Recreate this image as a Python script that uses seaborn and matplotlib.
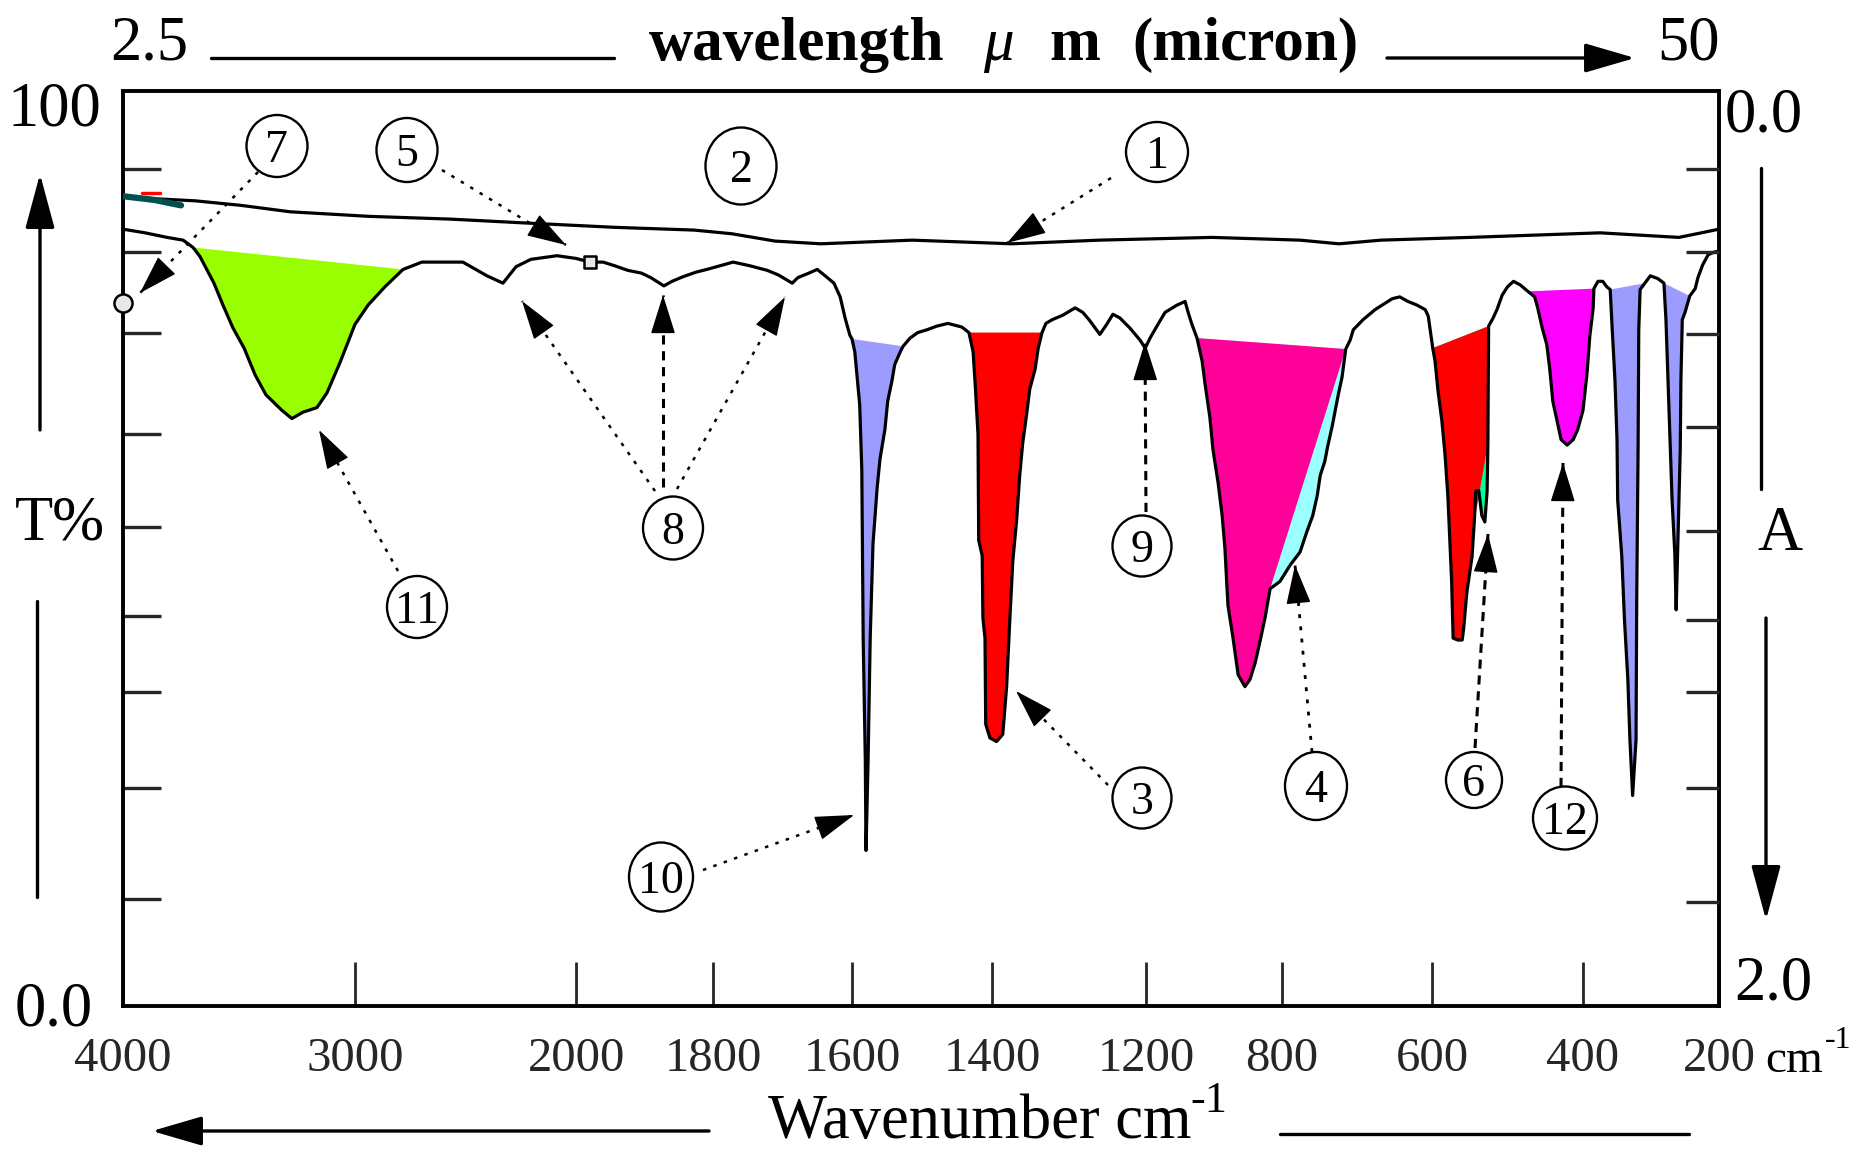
import numpy as np
import pandas as pd
import matplotlib
matplotlib.use("Agg")
import matplotlib.pyplot as plt
import seaborn as sns
from matplotlib.patches import Ellipse, FancyArrowPatch
from matplotlib.lines import Line2D
from matplotlib.ticker import NullLocator

# ---------------------------------------------------------------- data
tick_wavenumbers = [4000, 3000, 2000, 1800, 1600, 1400, 1200, 800, 600, 400, 200]
tick_labels = ["4000", "3000", "2000", "1800", "1600", "1400", "1200", "800", "600", "400", "200"]

# upper reference trace (1)
ref_wn = [4000, 3690, 3491, 3280, 2937, 2571, 2250, 1944, 1828, 1773, 1711, 1645,
          1514, 1374, 1261, 1006, 776, 724, 668, 550, 375, 259, 226, 200]
ref_T = [88.4, 88.0, 87.5, 86.8, 86.3, 86.0, 85.6, 85.1, 84.8, 84.4, 83.6, 83.3,
         83.7, 83.3, 83.7, 84.0, 83.7, 83.3, 83.7, 84.0, 84.5, 84.0, 84.5, 84.9]

# short coloured pieces at the start of trace (1)
teal_wn = [4000, 3866, 3750]
teal_T = [88.5, 88.1, 87.5]
red_bit_wn = [3918, 3841]
red_bit_T = [88.9, 88.9]

# main spectrum
spec_wn = [4000, 3905, 3810, 3741, 3698, 3668, 3608, 3569, 3526, 3478, 3431, 3384, 3315, 3272,
           3224, 3164, 3121, 3065, 3000, 2941, 2865, 2783, 2698, 2513, 2404, 2332, 2273, 2206,
           2088, 2002, 1980, 1961, 1944, 1925, 1905, 1891, 1872, 1860, 1844, 1825, 1809, 1790,
           1771, 1747, 1722, 1706, 1686, 1678, 1662, 1650, 1637, 1626, 1617, 1610, 1603, 1600,
           1596, 1593, 1589, 1586, 1584, 1581, 1580, 1577, 1574, 1570, 1564, 1560, 1553, 1549,
           1543, 1539, 1531, 1527, 1517, 1506, 1493, 1479, 1463, 1443, 1433, 1427, 1424, 1420,
           1419, 1414, 1413, 1410, 1409, 1403, 1394, 1386, 1381, 1377, 1373, 1368, 1364, 1360,
           1355, 1351, 1344, 1340, 1335, 1330, 1322, 1308, 1292, 1282, 1273, 1260, 1251, 1243,
           1234, 1221, 1208, 1201, 1188, 1168, 1144, 1109, 1085, 1076, 1065, 1050, 1035, 1026,
           1012, 1003, 988, 976, 968, 959, 944, 929, 909, 894, 879, 865, 850, 835,
           806, 789, 776, 767, 759, 753, 749, 743, 739, 733, 729, 725, 720, 715,
           709, 705, 692, 676, 653, 643, 632, 620, 609, 605, 599, 596, 592, 587,
           583, 579, 574, 572, 566, 560, 558, 554, 547, 544, 542, 538, 534, 530,
           527, 526, 525, 519, 514, 507, 500, 492, 483, 473, 464, 460, 454, 448,
           444, 440, 434, 429, 421, 413, 407, 400, 394, 390, 385, 384, 378, 371,
           365, 360, 357, 353, 350, 349, 343, 339, 334, 331, 327, 322, 321, 319,
           318, 316, 309, 301, 290, 281, 278, 275, 272, 269, 265, 263, 260, 257,
           256, 254, 250, 243, 235, 231, 224, 216, 207, 200]
spec_T = [84.9, 84.5, 84.0, 83.7, 82.9, 81.9, 79.0, 76.6, 74.1, 71.9, 69.0, 66.8, 65.1, 64.2,
          64.9, 65.4, 67.0, 70.3, 74.5, 76.6, 78.6, 80.5, 81.3, 81.3, 79.8, 79.0, 80.8, 81.6,
          82.0, 81.7, 81.3, 81.3, 80.9, 80.4, 80.1, 79.6, 78.7, 79.2, 79.7, 80.2, 80.5, 80.9,
          81.3, 80.9, 80.4, 79.9, 79.0, 79.6, 80.1, 80.5, 79.7, 79.0, 77.5, 75.2, 73.3, 72.9,
          71.5, 69.0, 65.7, 58.6, 40.0, 26.9, 17.0, 26.9, 40.2, 50.5, 56.7, 59.8, 63.0, 66.1,
          68.3, 70.1, 71.5, 72.1, 73.0, 73.6, 73.9, 74.3, 74.6, 74.2, 73.6, 71.5, 67.9, 62.5,
          50.9, 49.2, 42.4, 40.2, 30.8, 29.3, 28.9, 29.7, 34.9, 42.0, 48.6, 53.1, 58.0, 61.6,
          64.7, 67.4, 69.6, 71.9, 73.6, 74.6, 75.0, 75.5, 76.3, 75.8, 74.9, 73.4, 74.5, 75.6,
          75.2, 74.1, 72.8, 71.9, 73.0, 74.3, 75.8, 76.6, 77.0, 75.8, 74.5, 73.0, 70.5, 67.9,
          64.3, 60.8, 57.2, 53.6, 50.1, 43.8, 40.2, 36.2, 34.9, 35.7, 37.5, 39.8, 42.4, 45.6,
          46.4, 48.2, 49.6, 51.8, 53.6, 55.8, 58.0, 59.5, 61.2, 63.4, 65.1, 66.8, 68.7, 71.8,
          72.8, 73.9, 75.0, 76.1, 77.3, 77.5, 77.0, 76.6, 76.1, 75.4, 71.9, 70.5, 67.2, 64.0,
          60.5, 55.8, 46.4, 40.2, 40.0, 40.0, 41.3, 45.1, 49.1, 52.9, 56.3, 56.3, 53.6, 52.9,
          56.3, 61.4, 74.3, 75.2, 76.1, 77.7, 78.6, 79.2, 78.8, 78.1, 77.5, 76.3, 74.1, 72.3,
          69.6, 66.1, 63.8, 61.9, 61.3, 61.9, 63.0, 65.1, 69.2, 73.2, 76.3, 78.4, 79.2, 79.2,
          78.6, 78.3, 73.9, 68.4, 61.9, 55.3, 49.2, 42.2, 35.6, 29.1, 23.0, 29.1, 44.4, 60.8,
          73.9, 78.3, 79.0, 79.8, 79.5, 79.0, 75.0, 68.4, 61.9, 55.3, 49.5, 43.3, 52.2, 60.8,
          68.4, 75.0, 75.8, 77.6, 78.4, 79.6, 81.0, 82.1, 82.4, 82.5]

# shaded bands: start / end of the baseline chord (cm-1); split/rejoin mark a
# second colour region between a straight chord and the trace
band_start = [3698, 1600, 1433, 1050, 599, 473, 360, 281]
band_end = [2783, 1527, 1335, 715, 525, 384, 309, 243]
band_split = [None, None, None, 835, 544, None, None, None]
band_rejoin = [None, None, None, 715, 526, None, None, None]

# marked points on the traces (open symbols)
circle_pt_wn, circle_pt_T = [4000], [76.8]
square_pt_wn, square_pt_T = [1980], [81.3]

# circled callout numbers
callout_labels = ["7", "5", "2", "1", "8", "11", "9", "3", "4", "6", "12", "10"]

# ---------------------------------------------------------------- style / layout
band_color = ["#99ff00", "#9c9cff", "#ff0000", "#ff0099", "#ff0000", "#ff00ff", "#9c9cff", "#9c9cff"]
band_color2 = [None, None, None, "#99ffff", "#00ff99", None, None, None]

W, H = 1859, 1152
AX_L, AX_R, AX_T, AX_B = 123, 1719, 91, 1006
AXIS_BREAK_POS = [0, 232, 453.5, 590, 729, 869, 1023, 1159, 1309, 1460, 1596]
LEFT_TICKS_T = [91.5, 82.4, 73.6, 62.5, 52.3, 42.6, 34.3, 23.8, 11.7]
RIGHT_TICKS_T = [91.5, 82.4, 73.4, 63.3, 51.9, 42.2, 34.3, 23.8, 11.4]

callout_geom = [(277, 146, 61, 62), (407, 150, 61, 64), (741, 166, 71, 77), (1157, 152, 62, 60),
                (673, 528, 60, 63), (417, 607, 60, 62), (1142, 546, 59, 61), (1142, 798, 59, 61),
                (1316, 786, 62, 68), (1474, 780, 56, 56), (1565, 818, 64, 63), (661, 877, 64, 69)]
DOT = (0, (1.4, 3.0))
DASH = (0, (3.0, 2.2))
callout_arrows = [((258, 172), (140, 293), DOT, 1.8), ((442, 170), (566, 245), DOT, 1.8),
                  ((1111, 178), (1007, 243), DOT, 1.8), ((398, 571), (319, 430), DOT, 1.8),
                  ((655, 491), (522, 301), DOT, 1.8), ((663, 487), (663, 295), DASH, 2.2),
                  ((677, 489), (785, 297), DOT, 1.8), ((703, 870), (854, 815), DOT, 1.8),
                  ((1108, 785), (1016, 691), DOT, 1.8), ((1146, 512), (1145, 342), DASH, 2.2),
                  ((1312, 752), (1295, 565), DOT, 2.0), ((1475, 748), (1488, 534), DASH, 2.2),
                  ((1561, 787), (1563, 463), DASH, 2.2)]

sns.set_style("white")
plt.rcParams["font.family"] = ["Liberation Serif", "DejaVu Serif"]
plt.rcParams["axes.linewidth"] = 2.8


def fp(x, y):
    return (x / W, 1 - y / H)


fig = plt.figure(figsize=(W / 100, H / 100), dpi=100)
ax = fig.add_axes([AX_L / W, 1 - AX_B / H, (AX_R - AX_L) / W, (AX_B - AX_T) / H])

# piecewise-linear wavenumber axis (as on the original chart); forward is increasing
_tw = np.asarray(tick_wavenumbers, float)[::-1]
_tp = -np.asarray(AXIS_BREAK_POS, float)[::-1]


def fwd(w):
    return np.interp(np.asarray(w, float), _tw, _tp)


def inv(p):
    return np.interp(np.asarray(p, float), _tp, _tw)


ax.set_xscale("function", functions=(fwd, inv))

spec = pd.DataFrame({"wn": spec_wn, "T": spec_T})
ref = pd.DataFrame({"wn": ref_wn, "T": ref_T})

# shaded bands
wn_arr = np.asarray(spec_wn, float)
T_arr = np.asarray(spec_T, float)


def idx(v):
    return int(np.where(np.isclose(wn_arr, v))[0][0])


for s, e, sp, rj, c1, c2 in zip(band_start, band_end, band_split, band_rejoin, band_color, band_color2):
    i0, i1 = idx(s), idx(e)
    if sp is None:
        ax.fill(wn_arr[i0:i1 + 1], T_arr[i0:i1 + 1], color=c1, lw=0, zorder=2)
    else:
        ax.fill(wn_arr[i0:i1 + 1], T_arr[i0:i1 + 1], color=c2, lw=0, zorder=2)
        isp, irj = idx(sp), idx(rj)
        xs = np.concatenate([wn_arr[i0:isp + 1], wn_arr[irj:i1 + 1]])
        ys = np.concatenate([T_arr[i0:isp + 1], T_arr[irj:i1 + 1]])
        ax.fill(xs, ys, color=c1, lw=0, zorder=2.5)

sns.lineplot(data=ref, x="wn", y="T", sort=False, estimator=None, color="black", lw=2.3, ax=ax, zorder=4)
sns.lineplot(x=teal_wn, y=teal_T, sort=False, estimator=None, color="#005050", lw=4.5, ax=ax, zorder=4.5)
sns.lineplot(x=red_bit_wn, y=red_bit_T, sort=False, estimator=None, color="#ff0000", lw=2.5, ax=ax, zorder=4.6)
sns.lineplot(data=spec, x="wn", y="T", sort=False, estimator=None, color="black", lw=2.3, ax=ax, zorder=4)

sns.scatterplot(x=circle_pt_wn, y=circle_pt_T, marker="o", s=170, color="#e8e8e8", edgecolor="black",
                linewidth=1.8, ax=ax, zorder=6, clip_on=False, legend=False)
sns.scatterplot(x=square_pt_wn, y=square_pt_T, marker="s", s=80, color="#e8e8e8", edgecolor="black",
                linewidth=1.8, ax=ax, zorder=6, clip_on=False, legend=False)

ax.set_xlim(4000, 200)
ax.set_ylim(0, 100)
ax.set_xlabel("")
ax.set_ylabel("")
ax.set_xticks(tick_wavenumbers)
ax.set_xticklabels(tick_labels)
ax.xaxis.set_minor_locator(NullLocator())
ax.tick_params(axis="x", direction="in", length=31.5, width=2.0, pad=22, labelsize=35,
               top=False, bottom=True)
ax.set_yticks(LEFT_TICKS_T)
ax.yaxis.set_minor_locator(NullLocator())
ax.tick_params(axis="y", direction="in", length=27, width=2.4, labelleft=False, left=True, right=False)
for sp_ in ax.spines.values():
    sp_.set_color("black")
    sp_.set_linewidth(2.8)

ax2 = ax.twinx()
ax2.set_ylim(0, 100)
ax2.set_yticks(RIGHT_TICKS_T)
ax2.yaxis.set_minor_locator(NullLocator())
ax2.tick_params(axis="y", direction="in", length=24, width=2.4, labelright=False, right=True)
for sp_ in ax2.spines.values():
    sp_.set_visible(False)

# ---------------------------------------------------------------- decorations
def hline(x0, x1, y, lw=2.4):
    fig.add_artist(Line2D([x0 / W, x1 / W], [1 - y / H, 1 - y / H], color="black", lw=lw,
                          transform=fig.transFigure))


def vline(x, y0, y1, lw=2.4):
    fig.add_artist(Line2D([x / W, x / W], [1 - y0 / H, 1 - y1 / H], color="black", lw=lw,
                          transform=fig.transFigure))


def arrow(tail, tip, lw=2.4, scale=24, hl=1.0, hw=0.32):
    fig.add_artist(FancyArrowPatch(fp(*tail), fp(*tip), transform=fig.transFigure,
                                   arrowstyle=f"-|>,head_length={hl},head_width={hw}",
                                   mutation_scale=scale, lw=lw, color="black",
                                   shrinkA=0, shrinkB=0, zorder=8))


def dotted_arrow(tail, tip, ls, lw):
    (x0, y0), (x1, y1) = tail, tip
    fig.add_artist(Line2D([x0 / W, x1 / W], [1 - y0 / H, 1 - y1 / H], color="black", lw=lw, ls=ls,
                          transform=fig.transFigure, zorder=8))
    d = np.hypot(x1 - x0, y1 - y0)
    ux, uy = (x1 - x0) / d, (y1 - y0) / d
    arrow((x1 - 6 * ux, y1 - 6 * uy), tip, lw=1.0, scale=22, hl=1.15, hw=0.36)


def txt(x, y, s, size, ha="left", **kw):
    fig.text(x / W, 1 - y / H, s, fontsize=size, ha=ha, va="baseline", color="black", **kw)


# top wavelength line
txt(110, 60, "2.5", 45)
hline(211, 614, 58, 2.4)
txt(649, 60, "wavelength", 44, weight="bold")
txt(983, 60, "μ", 44, style="italic")
txt(1049, 60, "m", 44, weight="bold")
txt(1132, 60, "(micron)", 44, weight="bold")
arrow((1387, 58), (1635, 58), lw=2.4, scale=26, hl=1.2, hw=0.35)
txt(1657, 60, "50", 45)

# left side
txt(101, 125, "100", 45, ha="right")
arrow((40, 430), (40, 174), lw=2.4, scale=26, hl=1.3, hw=0.35)
txt(15, 540, "T%", 45)
vline(37, 601, 897)
txt(15, 1025, "0.0", 45)

# right side
txt(1725, 132, "0.0", 45)
vline(1761, 168, 489)
txt(1757, 550, "A", 45)
arrow((1766, 618), (1766, 920), lw=2.4, scale=26, hl=1.3, hw=0.35)
txt(1734, 1000, "2.0", 45)

# bottom
txt(1765, 1072, "cm", 34)
txt(1825, 1048, "-1", 23)
arrow((709, 1131), (152, 1131), lw=2.4, scale=26, hl=1.2, hw=0.35)
txt(768, 1138, "Wavenumber cm", 45)
txt(1190, 1112, "-1", 32)
hline(1280, 1689, 1134)

# circled callouts
for lab, (cx, cy, w, h) in zip(callout_labels, callout_geom):
    fig.add_artist(Ellipse(fp(cx, cy), w / W, h / H, transform=fig.transFigure, fill=False,
                           ec="black", lw=1.7, zorder=8))
    txt(cx, cy + 16, lab, 33, ha="center")

for tail, tip, ls, lw in callout_arrows:
    dotted_arrow(tail, tip, ls, lw)

fig.savefig("out.png", dpi=100)
